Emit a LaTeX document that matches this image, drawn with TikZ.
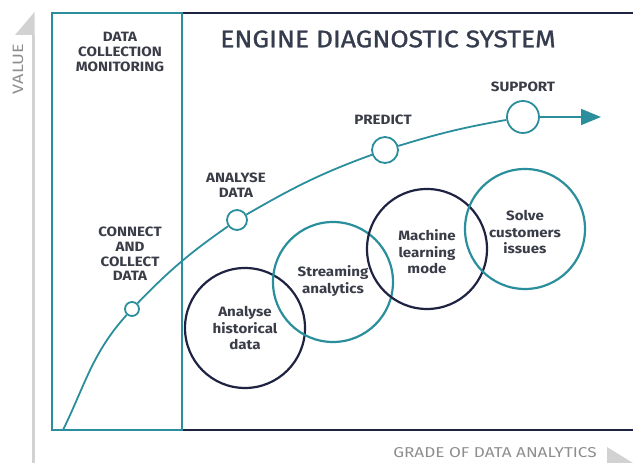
\documentclass[tikz,border=0pt]{standalone}
\usepackage{fontspec}
\setmainfont{Fira Sans}
\newfontfamily\lblfont{Fira Sans}[FakeStretch=1.12]
\newfontfamily\ttlfont{Fira Sans}[FakeStretch=1.1,FakeBold=1.2]
\newfontfamily\axfont{Fira Sans}[FakeStretch=1.2]
\usetikzlibrary{arrows.meta}
\definecolor{teal1}{HTML}{2A8E9C}
\definecolor{navy1}{HTML}{1F2342}
\definecolor{txt1}{HTML}{3A3D48}
\definecolor{ttl}{HTML}{343C4E}
\definecolor{axg}{HTML}{D2D2D2}
\definecolor{axt}{HTML}{8E8E8E}
\begin{document}
\begin{tikzpicture}[x=1pt,y=1pt,
  frameT/.style={teal1,line width=2pt},
  frameN/.style={navy1,line width=2pt},
  caps/.style={font=\lblfont\fontsize{13.5}{14.8}\selectfont\bfseries,text=txt1,align=center,inner sep=0},
  body/.style={font=\lblfont\fontsize{13.5}{16.5}\selectfont\bfseries,text=txt1,align=center,inner sep=0},
  dot/.style={circle,draw=teal1,line width=1.8pt,fill=white,inner sep=0},
  bigT/.style={circle,draw=teal1,line width=2.2pt,minimum size=120pt,inner sep=0},
  bigN/.style={circle,draw=navy1,line width=2.2pt,minimum size=120pt,inner sep=0},
  curve/.style={teal1,line width=1.8pt}]
\useasboundingbox (0,0) rectangle (633,463);
% axes
\fill[axg] (31.5,0) rectangle (34.5,428);
\fill[axg] (34.5,451) -- (34.5,428) -- (15,428) -- cycle;
\fill[axg] (607,16) -- (607,0) -- (633,0) -- cycle;
\node[rotate=90,text=axt,font=\axfont\fontsize{15}{15}\selectfont,inner sep=0] (value) at (18,394) {VALUE};
\node[text=axt,font=\axfont\fontsize{14.3}{14.3}\selectfont,inner sep=0] (grade) at (495,10) {GRADE OF DATA ANALYTICS};
% frame
\coordinate (tl) at (52,450);
\coordinate (bl) at (52,33);
\coordinate (tm) at (182,450);
\coordinate (bm) at (182,33);
\coordinate (tr) at (633,450);
\coordinate (br) at (633,33);
\draw[frameN] (tm) -- (tr);
\draw[frameN] (bm) -- (br);
\draw[frameT,line cap=rect] (tm) -- (tl) -- (bl) -- (bm) -- cycle;
% texts
\node[text=ttl,font=\ttlfont\fontsize{24}{24}\selectfont,inner sep=0] (title) at (388,424) {ENGINE DIAGNOSTIC SYSTEM};
\node[caps] (dcm) at (120,411) {DATA\\COLLECTION\\MONITORING};
\node[caps] (cacd) at (130,209) {CONNECT\\AND\\COLLECT\\DATA};
\node[caps] (ad) at (236,278) {ANALYSE\\DATA};
\node[caps] (pr) at (383,343) {PREDICT};
\node[caps] (su) at (523,376) {SUPPORT};
% big circles
\node[bigN] (hist) at (245,135) {};
\node[bigT] (strm) at (333,181) {};
\node[bigN] (ml) at (427,214) {};
\node[bigT] (solve) at (525,234) {};
\node[body] at (245,135) {Analyse\\historical\\data};
\node[body] at (333,182) {Streaming\\analytics};
\node[body] at (427,211) {Machine\\learning\\mode};
\node[body] at (525,231) {Solve\\customers\\issues};
% curve
\coordinate (start) at (63,33);
\node[dot,minimum size=14pt] (c1) at (132,154) {};
\node[dot,minimum size=20pt] (c2) at (237,243) {};
\node[dot,minimum size=26pt] (c3) at (385,313) {};
\node[dot,minimum size=32pt] (c4) at (523,346) {};
\coordinate (tip) at (601,346);
\draw[curve] (start) to[out=64,in=228] (c1);
\draw[curve] (c1) to[out=46,in=215] (c2);
\draw[curve] (c2) to[out=30,in=200] (c3);
\draw[curve] (c3) to[out=17,in=190] (c4);
\draw[curve,-{Triangle[length=20pt,width=16pt]}] (c4) -- (tip);
\end{tikzpicture}
\end{document}
